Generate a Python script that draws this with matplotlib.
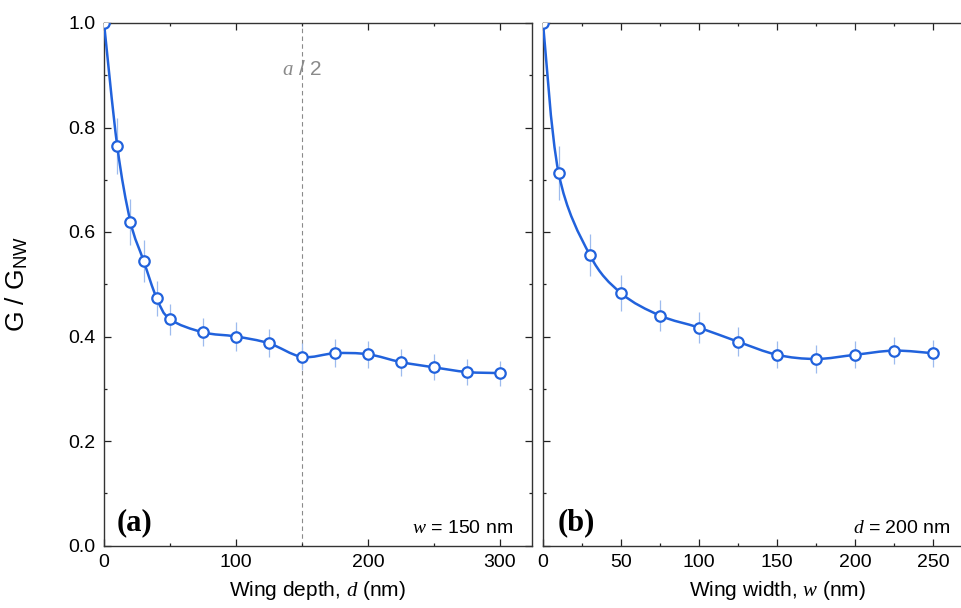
import numpy as np
import matplotlib
matplotlib.use("Agg")
import matplotlib.pyplot as plt
from matplotlib.path import Path
from matplotlib.patches import PathPatch
from matplotlib.ticker import MultipleLocator, FormatStrFormatter

# panel (a): G/G_NW vs wing depth d, w = 150 nm
depth = [0, 10, 20, 30, 40, 50, 75, 100, 125, 150, 175, 200, 225, 250, 275, 300]
g_depth = [1.0, 0.765, 0.620, 0.545, 0.473, 0.433, 0.408, 0.400, 0.387, 0.361,
           0.368, 0.366, 0.351, 0.341, 0.332, 0.330]
err_depth = [0.0, 0.054, 0.044, 0.040, 0.034, 0.030, 0.027, 0.027, 0.027, 0.026,
             0.027, 0.026, 0.026, 0.025, 0.024, 0.024]

# panel (b): G/G_NW vs wing width w, d = 200 nm
width = [0, 10, 30, 50, 75, 100, 125, 150, 175, 200, 225, 250]
g_width = [1.0, 0.713, 0.556, 0.483, 0.440, 0.417, 0.390, 0.365, 0.357, 0.365,
           0.373, 0.368]
err_width = [0.07, 0.051, 0.040, 0.035, 0.030, 0.029, 0.028, 0.026, 0.026, 0.026,
             0.026, 0.026]
width_ticks = [0, 50, 100, 150, 200, 250]

line_col = "#2162dc"
err_col = "#9dbbee"

plt.rcParams["font.family"] = ["Liberation Sans", "DejaVu Sans"]
plt.rcParams["mathtext.fontset"] = "custom"
plt.rcParams["mathtext.rm"] = "Liberation Sans"
plt.rcParams["mathtext.it"] = "Liberation Serif:italic"
plt.rcParams["mathtext.bf"] = "Liberation Serif:bold"


def smooth_path(x, y):
    # Catmull-Rom style bezier through the data points (like Origin's spline line)
    p = np.column_stack([x, y]).astype(float)
    n = len(p)
    verts = [p[0]]
    codes = [Path.MOVETO]
    for i in range(n - 1):
        p0 = p[i - 1] if i > 0 else p[i]
        p3 = p[i + 2] if i + 2 < n else p[i + 1]
        c1 = p[i] + (p[i + 1] - p0) / 6.0
        c2 = p[i + 1] - (p3 - p[i]) / 6.0
        verts += [c1, c2, p[i + 1]]
        codes += [Path.CURVE4] * 3
    return Path(verts, codes)


def draw_panel(ax, x, y, e):
    ax.errorbar(x, y, yerr=e, fmt="none", ecolor=err_col, elinewidth=0.9,
                capsize=0, zorder=2)
    ax.add_patch(PathPatch(smooth_path(x, y), fill=False, edgecolor=line_col,
                           linewidth=1.8, zorder=3))
    ax.plot(x, y, "o", markersize=7.5, markerfacecolor="white",
            markeredgecolor=line_col, markeredgewidth=1.6, zorder=4)
    ax.set_ylim(0, 1.0)
    ax.yaxis.set_major_locator(MultipleLocator(0.2))
    ax.yaxis.set_minor_locator(MultipleLocator(0.1))
    ax.tick_params(which="both", direction="in", top=True, right=True,
                   width=0.9, color="#222222", labelsize=14, pad=6)
    ax.tick_params(which="major", length=5)
    ax.tick_params(which="minor", length=2.5)
    for s in ax.spines.values():
        s.set_linewidth(1.0)
        s.set_color("#333333")


fig = plt.figure(figsize=(9.62, 6.08), dpi=100)
ax1 = fig.add_axes([104 / 962, 1 - 545.5 / 608, 428 / 962, 522.5 / 608])
# right panel runs past the figure edge, as in the original figure crop
ax2 = fig.add_axes([543 / 962, 1 - 545.5 / 608, 468 / 962, 522.5 / 608])

draw_panel(ax1, depth, g_depth, err_depth)
ax1.set_xlim(0, 428 / 1.32)
ax1.xaxis.set_major_locator(MultipleLocator(100))
ax1.xaxis.set_minor_locator(MultipleLocator(50))
ax1.yaxis.set_major_formatter(FormatStrFormatter("%.1f"))
ax1.set_xlabel(r"Wing depth, $\mathit{d}$ (nm)", fontsize=15, labelpad=6)
ax1.set_ylabel(r"G / G$_\mathregular{NW}$", fontsize=19)
ax1.yaxis.set_label_coords(-0.173, 0.5)
ax1.axvline(150, color="#8a8a8a", linewidth=0.8, dashes=(4, 3), zorder=1)
ax1.text(150, 0.90, r"$\mathit{a}$ / 2", color="#8a8a8a", fontsize=15,
         ha="center", va="baseline")
ax1.text(0.03, 0.03, "(a)", transform=ax1.transAxes, fontsize=22,
         family="Liberation Serif", weight="bold", va="baseline")
ax1.text(0.956, 0.024, r"$\mathit{w}$ = 150 nm", transform=ax1.transAxes,
         fontsize=14, ha="right", va="baseline")

draw_panel(ax2, width, g_width, err_width)
ax2.set_xlim(0, 300)
ax2.set_xticks(width_ticks)
ax2.xaxis.set_minor_locator(MultipleLocator(25))
ax2.tick_params(labelleft=False)
ax2.set_xlabel(r"Wing width, $\mathit{w}$ (nm)", fontsize=15, labelpad=6)
ax2.text(15 / 468, 0.03, "(b)", transform=ax2.transAxes, fontsize=22,
         family="Liberation Serif", weight="bold", va="baseline")
ax2.text(408 / 468, 0.024, r"$\mathit{d}$ = 200 nm", transform=ax2.transAxes,
         fontsize=14, ha="right", va="baseline")

fig.savefig("out.png", dpi=100)
